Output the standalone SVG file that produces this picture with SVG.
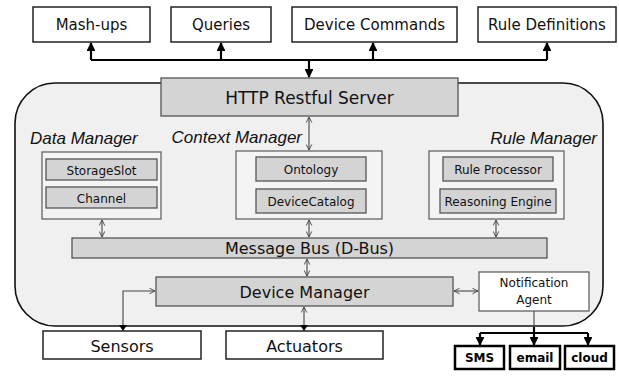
<svg xmlns="http://www.w3.org/2000/svg" width="619" height="380" viewBox="0 0 619 380">
<style>
.t{font-family:"Comic Sans MS","DejaVu Sans",sans-serif;fill:#111;text-anchor:middle}
.lbl{font-family:"Liberation Sans",Arial,sans-serif;font-style:italic;fill:#111;font-size:17px}
.wb{fill:#fff;stroke:#222;stroke-width:1.5}
.gb{fill:#d4d4d4;stroke:#555;stroke-width:1.3}
.mb{fill:#f4f4f4;stroke:#666;stroke-width:1.3}
.thick{stroke:#000;stroke-width:2.2;fill:none}
.thin{stroke:#444;stroke-width:1.1;fill:none}
.bold{font-family:"DejaVu Sans",sans-serif;font-weight:bold;font-size:12px;fill:#000;text-anchor:middle}
</style>
<defs>
<marker id="fa" viewBox="0 0 10 10" refX="9" refY="5" markerWidth="4" markerHeight="4" orient="auto"><path d="M0,0 L10,5 L0,10 z" fill="#000"/></marker>
<marker id="oa" viewBox="0 0 10 10" refX="9" refY="5" markerWidth="7" markerHeight="7" orient="auto-start-reverse" markerUnits="userSpaceOnUse"><path d="M1,1 L9,5 L1,9" fill="none" stroke="#444" stroke-width="1.3"/></marker>
</defs>
<rect x="15" y="83" width="588" height="243" rx="40" ry="40" fill="#f0f0f0" stroke="#111" stroke-width="1.6"/>
<g id="mashups"><rect class="wb" x="33" y="7" width="117" height="35"/><text class="t" x="91.5" y="30" font-size="15">Mash-ups</text></g>
<g id="queries"><rect class="wb" x="171" y="7" width="100" height="35"/><text class="t" x="221" y="30" font-size="15">Queries</text></g>
<g id="devcmds"><rect class="wb" x="292" y="7" width="165" height="35"/><text class="t" x="374.5" y="30" font-size="15">Device Commands</text></g>
<g id="ruledefs"><rect class="wb" x="478" y="7" width="138" height="35"/><text class="t" x="547" y="30" font-size="15">Rule Definitions</text></g>
<g id="http"><rect class="gb" x="161" y="78" width="297" height="38"/><text class="t" x="309.5" y="104" font-size="17">HTTP Restful Server</text></g>
<g id="datamanager"><text class="lbl" x="30" y="144">Data Manager</text><rect class="mb" x="42" y="152" width="119" height="67"/>
<g id="storageslot"><rect class="gb" x="46" y="159" width="111" height="21"/><text class="t" x="101.5" y="175" font-size="12">StorageSlot</text></g>
<g id="channel"><rect class="gb" x="46" y="187" width="111" height="21"/><text class="t" x="101.5" y="203" font-size="12">Channel</text></g></g>
<g id="contextmanager"><text class="lbl" x="302" y="143" text-anchor="end">Context Manager</text><rect class="mb" x="236" y="151" width="146" height="68"/>
<g id="ontology"><rect class="gb" x="256" y="157" width="110" height="24"/><text class="t" x="311" y="174" font-size="12">Ontology</text></g>
<g id="devicecatalog"><rect class="gb" x="256" y="189" width="110" height="24"/><text class="t" x="311" y="206" font-size="12">DeviceCatalog</text></g></g>
<g id="rulemanager"><text class="lbl" x="597" y="144" text-anchor="end">Rule Manager</text><rect class="mb" x="429" y="151" width="135" height="68"/>
<g id="ruleprocessor"><rect class="gb" x="443" y="157" width="110" height="24"/><text class="t" x="498" y="174" font-size="12">Rule Processor</text></g>
<g id="reasoning"><rect class="gb" x="440" y="189" width="116" height="24"/><text class="t" x="498" y="206" font-size="12">Reasoning Engine</text></g></g>
<g id="messagebus"><rect class="gb" x="72" y="238" width="475" height="20"/><text class="t" x="309.5" y="254" font-size="16">Message Bus (D-Bus)</text></g>
<g id="devicemanager"><rect class="gb" x="156" y="277" width="297" height="29"/><text class="t" x="304.5" y="298" font-size="16">Device Manager</text></g>
<g id="notification"><rect fill="#fff" stroke="#555" stroke-width="1.2" x="479" y="272" width="110" height="39"/><text class="t" x="534" y="287" font-size="12">Notification</text><text class="t" x="534" y="304" font-size="12">Agent</text></g>
<g id="sensors"><rect class="wb" x="43" y="331" width="158" height="28"/><text class="t" x="122" y="352" font-size="16">Sensors</text></g>
<g id="actuators"><rect class="wb" x="226" y="331" width="157" height="28"/><text class="t" x="304.5" y="352" font-size="16">Actuators</text></g>
<g id="sms"><rect fill="#fff" stroke="#000" stroke-width="2.5" x="455" y="346" width="49" height="23"/><text class="bold" x="479.5" y="362">SMS</text></g>
<g id="email"><rect fill="#fff" stroke="#000" stroke-width="2.5" x="510" y="346" width="50" height="23"/><text class="bold" x="535" y="362">email</text></g>
<g id="cloud"><rect fill="#fff" stroke="#000" stroke-width="2.5" x="565" y="346" width="49" height="23"/><text class="bold" x="589.5" y="362">cloud</text></g>
<g id="connectors">
<path class="thick" d="M91,60 H547"/>
<path class="thick" d="M91,60 V43" marker-end="url(#fa)"/>
<path class="thick" d="M221,60 V43" marker-end="url(#fa)"/>
<path class="thick" d="M373,60 V43" marker-end="url(#fa)"/>
<path class="thick" d="M547,60 V43" marker-end="url(#fa)"/>
<path class="thick" d="M309,60 V77" marker-end="url(#fa)"/>
<path class="thin" d="M309,117 V150" marker-start="url(#oa)" marker-end="url(#oa)"/>
<path class="thin" d="M102,220 V237" marker-start="url(#oa)" marker-end="url(#oa)"/>
<path class="thin" d="M309,220 V237" marker-start="url(#oa)" marker-end="url(#oa)"/>
<path class="thin" d="M496,220 V237" marker-start="url(#oa)" marker-end="url(#oa)"/>
<path class="thin" d="M307,259 V276" marker-start="url(#oa)" marker-end="url(#oa)"/>
<path class="thin" d="M454,291 H478" marker-start="url(#oa)" marker-end="url(#oa)"/>
<path class="thin" d="M123,325 V291 H155" marker-end="url(#oa)"/>
<path d="M119,325 L127,325 L123,331 z" fill="#000"/>
<path class="thin" d="M304,325 V307" marker-end="url(#oa)"/>
<path d="M300,325 L308,325 L304,331 z" fill="#000"/>
<path class="thin" d="M534,311 V327"/>
<path class="thick" d="M534,327 V333 M480,333 H588"/>
<path class="thick" d="M480,333 V345" marker-end="url(#fa)"/>
<path class="thick" d="M534,333 V345" marker-end="url(#fa)"/>
<path class="thick" d="M588,333 V345" marker-end="url(#fa)"/>
</g>
</svg>
